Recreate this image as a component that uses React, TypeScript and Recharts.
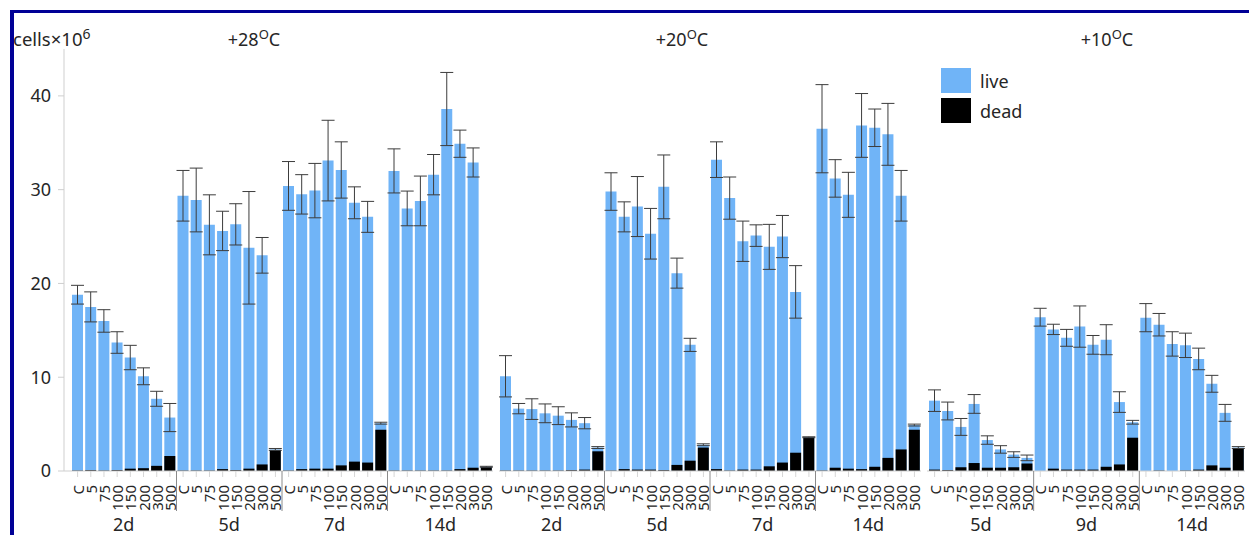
import { BarChart, Bar, XAxis, YAxis, ErrorBar, Legend } from 'recharts'

const DOSES = ['C', '5', '75', '100', '150', '200', '300', '500']
const Y_TICKS = [0, 10, 20, 30, 40]
const SERIES_ORDER = ['live', 'dead']

const TEMPS = ['+28', '+20', '+10']

const DAYS_28 = ['2d', '5d', '7d', '14d']
const LIVE_28 = [
  18.8, 17.5, 16.0, 13.7, 12.1, 10.1, 7.7, 5.7,
  29.35, 28.9, 26.25, 25.6, 26.3, 23.8, 23.0, 2.3,
  30.4, 29.5, 29.9, 33.1, 32.1, 28.6, 27.1, 5.1,
  32.0, 28.0, 28.8, 31.6, 38.6, 34.9, 32.9, 0.45,
]
const ERR_28 = [
  1.0, 1.6, 1.2, 1.15, 1.3, 0.9, 0.8, 1.5,
  2.7, 3.4, 3.2, 2.1, 2.2, 6.0, 1.9, 0.1,
  2.6, 2.1, 2.9, 4.3, 3.0, 1.7, 1.65, 0.1,
  2.35, 1.85, 2.65, 2.15, 3.9, 1.45, 1.55, 0.05,
]
const DEAD_28 = [
  0.05, 0.1, 0.05, 0.1, 0.25, 0.3, 0.55, 1.6,
  0.05, 0.05, 0.05, 0.2, 0.1, 0.25, 0.7, 2.2,
  0.05, 0.2, 0.25, 0.25, 0.6, 1.0, 0.9, 4.4,
  0.05, 0.05, 0.05, 0.05, 0.05, 0.2, 0.35, 0.4,
]

const DAYS_20 = ['2d', '5d', '7d', '14d']
const LIVE_20 = [
  10.1, 6.65, 6.6, 6.15, 5.9, 5.45, 5.1, 2.5,
  29.8, 27.1, 28.2, 25.3, 30.3, 21.1, 13.45, 2.8,
  33.2, 29.1, 24.5, 25.1, 23.9, 25.0, 19.1, 3.6,
  36.5, 31.2, 29.45, 36.85, 36.6, 35.9, 29.35, 4.9,
]
const ERR_20 = [
  2.2, 0.55, 1.1, 1.0, 0.95, 0.75, 0.6, 0.1,
  2.0, 1.6, 3.2, 2.7, 3.4, 1.6, 0.7, 0.1,
  1.9, 2.25, 2.15, 1.15, 2.4, 2.25, 2.8, 0.05,
  4.7, 2.0, 2.4, 3.4, 2.0, 3.3, 2.7, 0.1,
]
const DEAD_20 = [
  0.05, 0.05, 0.05, 0.05, 0.05, 0.1, 0.15, 2.1,
  0.05, 0.2, 0.15, 0.15, 0.1, 0.65, 1.1, 2.5,
  0.2, 0.05, 0.15, 0.15, 0.5, 0.9, 1.95, 3.55,
  0.05, 0.35, 0.25, 0.2, 0.45, 1.4, 2.3, 4.4,
]

const DAYS_10 = ['5d', '9d', '14d']
const LIVE_10 = [
  7.5, 6.4, 4.7, 7.15, 3.3, 2.3, 1.75, 1.4,
  16.4, 15.1, 14.2, 15.4, 13.45, 14.0, 7.35, 5.2,
  16.35, 15.6, 13.55, 13.4, 11.95, 9.3, 6.2, 2.5,
]
const ERR_10 = [
  1.15, 0.95, 0.9, 1.0, 0.45, 0.4, 0.3, 0.3,
  0.95, 0.55, 0.9, 2.2, 1.0, 1.6, 1.1, 0.2,
  1.5, 1.2, 1.3, 1.3, 1.15, 0.9, 0.9, 0.1,
]
const DEAD_10 = [
  0.15, 0.1, 0.4, 0.85, 0.35, 0.35, 0.4, 0.8,
  0, 0.25, 0.15, 0.15, 0.15, 0.45, 0.7, 3.55,
  0, 0.05, 0, 0.05, 0.15, 0.6, 0.35, 2.4,
]

const LIVE_COLOR = '#70b4f7'
const DEAD_COLOR = '#000000'
const FRAME_COLOR = '#000096'
const TEXT_COLOR = '#262626'
const FONT = '"Noto Sans", "Open Sans", sans-serif'
const HEIGHT = 535

interface Row {
  key: string
  day: string
  dose: string
  live: number
  liveErr: number
  dead: number
}

function buildRows(days: string[], live: number[], err: number[], dead: number[]): Row[] {
  return days.flatMap((day, d) =>
    DOSES.map((dose, k) => {
      const i = d * DOSES.length + k
      return { key: `${day}-${dose}`, day, dose, live: live[i], liveErr: err[i], dead: dead[i] }
    })
  )
}

const ROWS_28 = buildRows(DAYS_28, LIVE_28, ERR_28, DEAD_28)
const ROWS_20 = buildRows(DAYS_20, LIVE_20, ERR_20, DEAD_20)
const ROWS_10 = buildRows(DAYS_10, LIVE_10, ERR_10, DEAD_10)

// rotated dose label + day label under each group + separator between groups
function doseTick(rows: Row[]) {
  return function DoseTick(props: any) {
    const { x, y, payload } = props
    const i: number = props.index ?? payload.index
    const row = rows[i]
    if (row === undefined) return <g />
    const half: number = typeof payload.offset === 'number' && payload.offset > 0 ? payload.offset : 6.6
    const n = DOSES.length
    return (
      <g>
        <text
          x={x}
          y={y}
          transform={`rotate(-90 ${x} ${y})`}
          textAnchor="end"
          dominantBaseline="central"
          fontSize={15}
          fontFamily={FONT}
          fill={TEXT_COLOR}
        >
          {row.dose}
        </text>
        {i % n === 0 && i > 0 && (
          <line x1={x - half} x2={x - half} y1={y - 14} y2={y + 26} stroke="#8a8a8a" strokeWidth={1} />
        )}
        {i % n === n / 2 - 1 && (
          <text x={x + half} y={y + 46} textAnchor="middle" fontSize={18} fontFamily={FONT} fill={TEXT_COLOR}>
            {row.day}
          </text>
        )}
      </g>
    )
  }
}

function LegendBox(props: any) {
  const payload: any[] = [...(props.payload ?? [])].sort(
    (a, b) => SERIES_ORDER.indexOf(a.value) - SERIES_ORDER.indexOf(b.value)
  )
  return (
    <div style={{ display: 'flex', flexDirection: 'column', gap: 5, fontFamily: FONT }}>
      {payload.map((p) => (
        <div key={p.value} style={{ display: 'flex', alignItems: 'center', height: 25 }}>
          <div style={{ width: 30, height: 25, background: p.color }} />
          <span style={{ marginLeft: 9, fontSize: 18, color: TEXT_COLOR }}>{p.value}</span>
        </div>
      ))}
    </div>
  )
}

interface PanelProps {
  rows: Row[]
  left: number
  width: number
  marginLeft: number
  marginRight: number
  padLeft: number
  withYAxis?: boolean
  withLegend?: boolean
}

function Panel({ rows, left, width, marginLeft, marginRight, padLeft, withYAxis, withLegend }: PanelProps) {
  return (
    <div style={{ position: 'absolute', left, top: 0 }}>
      <BarChart
        width={width}
        height={HEIGHT}
        data={rows}
        margin={{ top: 49, right: marginRight, bottom: 0, left: marginLeft }}
        barSize={11}
        barGap={-11}
      >
        <XAxis
          dataKey="key"
          interval={0}
          height={64}
          tick={doseTick(rows)}
          tickSize={6}
          tickMargin={8}
          tickLine={{ stroke: '#d6d6d6' }}
          axisLine={{ stroke: '#cfcfcf' }}
          padding={{ left: padLeft, right: 0 }}
        />
        <YAxis
          hide={withYAxis !== true}
          domain={[0, 45]}
          ticks={Y_TICKS}
          width={64}
          tickSize={6}
          tickMargin={7}
          tickLine={{ stroke: '#cfcfcf' }}
          axisLine={{ stroke: '#cfcfcf' }}
          tick={{ fontSize: 18, fill: TEXT_COLOR, fontFamily: FONT }}
        />
        <Bar dataKey="live" name="live" fill={LIVE_COLOR} isAnimationActive={false}>
          <ErrorBar dataKey="liveErr" direction="y" width={6.5} stroke="#3c3c3c" strokeWidth={1} />
        </Bar>
        <Bar dataKey="dead" name="dead" fill={DEAD_COLOR} isAnimationActive={false} />
        {withLegend === true && (
          <Legend
            layout="vertical"
            align="center"
            verticalAlign="middle"
            content={<LegendBox />}
            wrapperStyle={{ left: 20, top: 68, width: 120, height: 60 }}
          />
        )}
      </BarChart>
    </div>
  )
}

const TEMP_CENTERS = [254, 682, 1107]

export default function App() {
  return (
    <div
      style={{
        position: 'absolute',
        left: 0,
        top: 0,
        width: 1249,
        height: HEIGHT,
        background: '#fff',
        overflow: 'hidden',
        fontFamily: FONT,
        color: TEXT_COLOR,
      }}
    >
      {/* panels overlap a little so the last rotated label is not clipped */}
      <Panel rows={ROWS_28} left={0} width={504} marginLeft={0} marginRight={11} padLeft={7} withYAxis />
      <Panel rows={ROWS_20} left={494} width={437} marginLeft={5} marginRight={10} padLeft={0} />
      <Panel rows={ROWS_10} left={921} width={328} marginLeft={6} marginRight={4} padLeft={1} withLegend />

      <div style={{ position: 'absolute', left: 13, top: 24, fontSize: 18.5, whiteSpace: 'nowrap' }}>
        cells×10<sup style={{ fontSize: 14 }}>6</sup>
      </div>
      {TEMPS.map((t, i) => (
        <div
          key={t}
          style={{
            position: 'absolute',
            left: TEMP_CENTERS[i] - 60,
            width: 120,
            top: 25,
            textAlign: 'center',
            fontSize: 18,
            whiteSpace: 'nowrap',
          }}
        >
          {t}
          <sup style={{ fontSize: 13 }}>O</sup>C
        </div>
      ))}

      <div style={{ position: 'absolute', left: 10, top: 10, width: 1239, height: 3, background: FRAME_COLOR }} />
      <div style={{ position: 'absolute', left: 10, top: 10, width: 4, height: 525, background: FRAME_COLOR }} />
    </div>
  )
}
